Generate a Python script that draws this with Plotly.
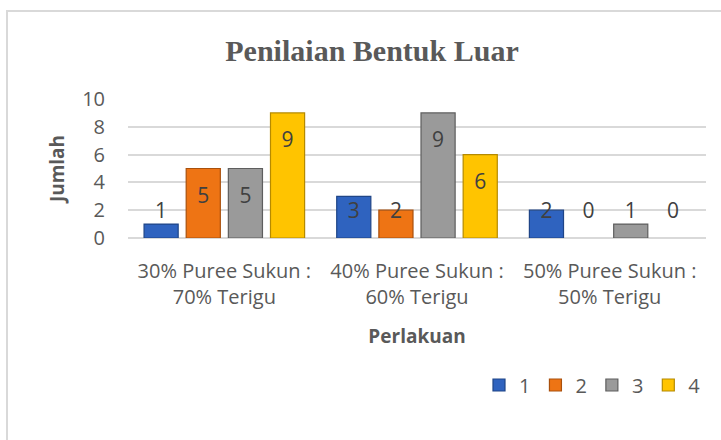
import plotly.graph_objects as go

categories = ["30% Puree Sukun :<br>70% Terigu",
              "40% Puree Sukun :<br>60% Terigu",
              "50% Puree Sukun :<br>50% Terigu"]
series_names = ["1", "2", "3", "4"]
s1 = [1, 3, 2]
s2 = [5, 2, 0]
s3 = [5, 9, 1]
s4 = [9, 6, 0]
series_values = [s1, s2, s3, s4]
colors = ["#2F63BF", "#EE7414", "#9A9A9A", "#FFC400"]
edges = ["#1F4587", "#A9500C", "#5E5E5E", "#B58A00"]

W, H = 721, 440
L, R, T, B = 128, 706, 99, 238
pw, ph = R - L, B - T

pitch = 42 / 192
bw = 34 / 192

fig = go.Figure()
for i, (name, vals) in enumerate(zip(series_names, series_values)):
    xs = [c + (i - 1.5) * pitch for c in range(len(categories))]
    fig.add_trace(go.Bar(
        x=xs, y=vals, width=bw, name=name,
        marker=dict(color=colors[i],
                    line=dict(color=edges[i], width=[1.2 if v > 0 else 0 for v in vals])),
        hoverinfo="skip",
    ))
    ty = [max(v - 2.1, 1.8) for v in vals]
    fig.add_trace(go.Scatter(
        x=xs, y=ty, mode="text", text=[str(v) for v in vals],
        textfont=dict(family="Open Sans", size=21, color="#404040"),
        showlegend=False, hoverinfo="skip",
    ))

def px_x(p):
    return (p - L) / pw

def px_y(p):
    return (B - p) / ph

fig.add_shape(type="rect", xref="paper", yref="paper",
              x0=px_x(7), x1=px_x(740), y0=px_y(470), y1=px_y(11),
              line=dict(color="#D9D9D9", width=2), layer="below")

fig.update_layout(
    width=W, height=H,
    margin=dict(l=L, r=W - R, t=T, b=H - B, autoexpand=False),
    paper_bgcolor="white", plot_bgcolor="white",
    barmode="overlay",
    title=dict(text="Penilaian Bentuk Luar", x=372 / W, xanchor="center",
               y=1 - 50 / H, yanchor="middle",
               font=dict(family="Liberation Serif", size=30, color="#595959", weight="bold")),
    xaxis=dict(range=[-0.5, 2.5], tickvals=[0, 1, 2], ticktext=categories,
               showgrid=False, zeroline=False, showline=False, ticks="",
               automargin=False, ticklabelstandoff=19,
               tickfont=dict(family="Open Sans", size=20, color="#595959"),
               title=dict(text="Perlakuan", standoff=20,
                          font=dict(family="Open Sans", size=19, color="#595959", weight="bold"))),
    yaxis=dict(range=[0, 10], tickvals=[0, 2, 4, 6, 8, 10],
               showgrid=True, gridcolor="#D9D9D9", gridwidth=2,
               zeroline=True, zerolinecolor="#D9D9D9", zerolinewidth=2,
               ticks="", ticklabelstandoff=22, automargin=False,
               tickfont=dict(family="Open Sans", size=20, color="#595959"),
               title=dict(text="Jumlah", standoff=12,
                          font=dict(family="Open Sans", size=19, color="#595959", weight="bold"))),
    legend=dict(orientation="h", x=1.0, xanchor="right", y=px_y(385), yanchor="middle",
                font=dict(family="Open Sans", size=20, color="#595959"),
                itemwidth=30, tracegroupgap=0, bgcolor="rgba(0,0,0,0)"),
    showlegend=True,
)

fig.write_html("out.html", config={"displayModeBar": False},
               post_script="document.body.style.margin='0';document.body.style.overflow='hidden';")
